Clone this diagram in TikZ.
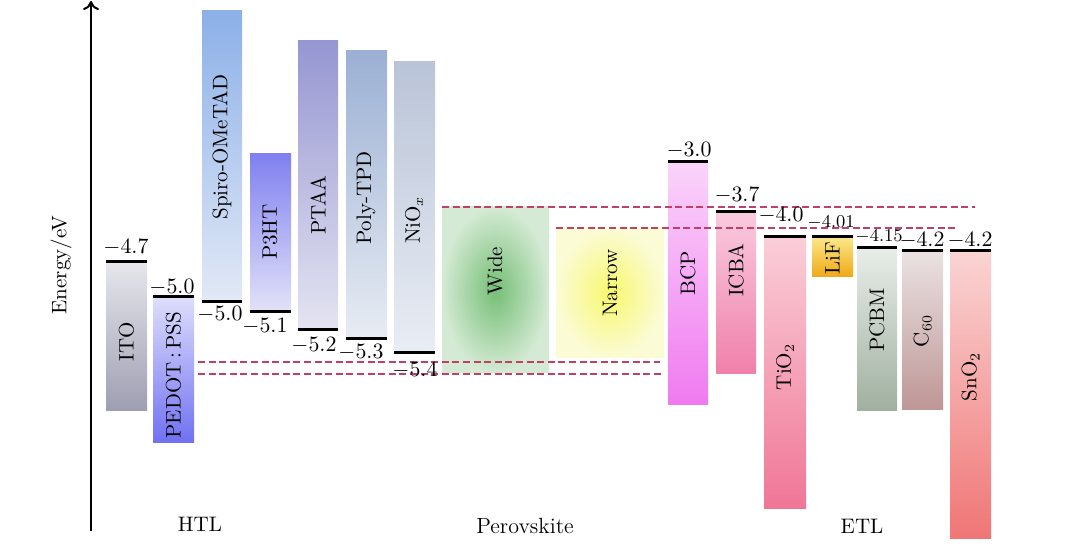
\documentclass[tikz,border=0pt]{standalone}
\usetikzlibrary{fit,arrows.meta}
\definecolor{itoT}{RGB}{230,230,236}\definecolor{itoB}{RGB}{158,158,178}
\definecolor{pedT}{RGB}{222,222,252}\definecolor{pedB}{RGB}{112,112,242}
\definecolor{spiT}{RGB}{140,176,232}\definecolor{spiB}{RGB}{226,233,246}
\definecolor{p3hT}{RGB}{128,128,240}\definecolor{p3hB}{RGB}{226,226,249}
\definecolor{ptaT}{RGB}{150,150,210}\definecolor{ptaB}{RGB}{228,228,242}
\definecolor{tpdT}{RGB}{155,176,212}\definecolor{tpdB}{RGB}{232,236,243}
\definecolor{nioT}{RGB}{186,196,216}\definecolor{nioB}{RGB}{233,237,244}
\definecolor{widI}{RGB}{118,190,118}\definecolor{widO}{RGB}{212,234,212}
\definecolor{narI}{RGB}{248,248,110}\definecolor{narO}{RGB}{251,251,214}
\definecolor{bcpT}{RGB}{250,212,250}\definecolor{bcpB}{RGB}{240,122,240}
\definecolor{icbT}{RGB}{249,202,222}\definecolor{icbB}{RGB}{240,128,170}
\definecolor{tioT}{RGB}{250,206,216}\definecolor{tioB}{RGB}{240,118,150}
\definecolor{lifT}{RGB}{250,232,140}\definecolor{lifB}{RGB}{240,168,20}
\definecolor{pcbT}{RGB}{232,237,232}\definecolor{pcbB}{RGB}{160,176,160}
\definecolor{c60T}{RGB}{234,226,226}\definecolor{c60B}{RGB}{190,150,150}
\definecolor{snoT}{RGB}{250,212,212}\definecolor{snoB}{RGB}{240,118,118}
\definecolor{dashc}{RGB}{192,64,104}
\begin{document}
\begin{tikzpicture}[x=0.5pt,y=-0.5pt,
  every node/.style={font=\fontsize{10.5}{12.6}\selectfont},
  bx/.style={fit={#1},inner sep=0pt,outer sep=0pt,draw=none},
  lvl/.style={line width=1.5pt},
  guide/.style={draw=dashc,line width=0.55pt,dash pattern=on 3.5pt off 1.8pt},
  vert/.style={rotate=90,inner sep=0pt},
  val/.style={inner sep=0pt},
  valsm/.style={inner sep=0pt,font=\fontsize{9}{11}\selectfont}]
\useasboundingbox (0,0) rectangle (1080,549);
% axis
\coordinate (ax0) at (91,531);
\coordinate (ax1) at (91,1);
\draw[line width=1pt,-{To[length=4.5pt,width=8pt]}] (ax0) -- (ax1);
\node[vert] (elab) at (61,265) {Energy/eV};
% HTL boxes
\node[bx={(106,262) (147,411)},top color=itoT,bottom color=itoB] (ito) {};
\node[bx={(153,297) (194,443)},top color=pedT,bottom color=pedB] (ped) {};
\node[bx={(202,11) (242,302)},top color=spiT,bottom color=spiB] (spi) {};
\node[bx={(250,154) (291,312)},top color=p3hT,bottom color=p3hB] (p3h) {};
\node[bx={(298,41) (338,330)},top color=ptaT,bottom color=ptaB] (pta) {};
\node[bx={(346,51) (387,339)},top color=tpdT,bottom color=tpdB] (tpd) {};
\node[bx={(394,62) (435,353)},top color=nioT,bottom color=nioB] (nio) {};
% perovskite
\node[bx={(442,207) (549,373)},inner color=widI,outer color=widO] (wide) {};
\node[bx={(556,228) (664,358)},inner color=narI,outer color=narO] (narrow) {};
% ETL boxes
\node[bx={(668,162) (708,405)},top color=bcpT,bottom color=bcpB] (bcp) {};
\node[bx={(716,212) (756,374)},top color=icbT,bottom color=icbB] (icb) {};
\node[bx={(764,237) (806,508)},top color=tioT,bottom color=tioB] (tio) {};
\node[bx={(812,237) (853,277)},top color=lifT,bottom color=lifB] (lif) {};
\node[bx={(857,248) (897,411)},top color=pcbT,bottom color=pcbB] (pcb) {};
\node[bx={(902,251) (943,410)},top color=c60T,bottom color=c60B] (c60) {};
\node[bx={(950,251) (991,538)},top color=snoT,bottom color=snoB] (sno) {};
% level bars
\draw[lvl] (ito.north west) -- (ito.north east);
\draw[lvl] (ped.north west) -- (ped.north east);
\draw[lvl] (spi.south west) -- (spi.south east);
\draw[lvl] (p3h.south west) -- (p3h.south east);
\draw[lvl] (pta.south west) -- (pta.south east);
\draw[lvl] (tpd.south west) -- (tpd.south east);
\draw[lvl] (nio.south west) -- (nio.south east);
\draw[lvl] (bcp.north west) -- (bcp.north east);
\draw[lvl] (icb.north west) -- (icb.north east);
\draw[lvl] (tio.north west) -- (tio.north east);
\draw[lvl] (lif.north west) -- (lif.north east);
\draw[lvl] (pcb.north west) -- (pcb.north east);
\draw[lvl] (c60.north west) -- (c60.north east);
\draw[lvl] (sno.north west) -- (sno.north east);
% dashed guides
\coordinate (wtE) at (975,207);
\coordinate (ntE) at (957,228);
\coordinate (nbS) at (198,362);
\coordinate (nbE) at (660,362);
\coordinate (wbS) at (198,374);
\coordinate (wbE) at (663,374);
\draw[guide] (wide.north west) -- (wtE);
\draw[guide] (narrow.north west) -- (ntE);
\draw[guide] (nbS) -- (nbE);
\draw[guide] (wbS) -- (wbE);
% box labels
\node[vert] (tito) at (126.5,342) {ITO};
\node[vert] (tped) at (173.5,375) {PEDOT\,:\,PSS};
\node[vert] (tspi) at (222,147) {Spiro-OMeTAD};
\node[vert] (tp3h) at (270,232) {P3HT};
\node[vert] (tpta) at (318,205) {PTAA};
\node[vert] (ttpd) at (366,198) {Poly-TPD};
\node[vert] (tnio) at (414,220) {NiO$_x$};
\node[vert] (twid) at (495,271) {Wide};
\node[vert] (tnar) at (610,283) {Narrow};
\node[vert] (tbcp) at (688,273) {BCP};
\node[vert] (ticb) at (736,270) {ICBA};
\node[vert] (ttio) at (785,367) {TiO$_2$};
\node[vert] (tlif) at (832.5,258) {LiF};
\node[vert] (tpcb) at (877,320) {PCBM};
\node[vert] (tc60) at (922.5,331) {C$_{60}$};
\node[vert] (tsno) at (970.5,377) {SnO$_2$};
% values
\node[val] (v1) at (126,247) {$-4.7$};
\node[val] (v2) at (172,287) {$-5.0$};
\node[val] (v3) at (220,314) {$-5.0$};
\node[val] (v4) at (265,326) {$-5.1$};
\node[val] (v5) at (314,345) {$-5.2$};
\node[val] (v6) at (361,352) {$-5.3$};
\node[val] (v7) at (415,370) {$-5.4$};
\node[val] (v8) at (689,150) {$-3.0$};
\node[val] (v9) at (737,195) {$-3.7$};
\node[val] (v10) at (781,215) {$-4.0$};
\node[valsm] (v11) at (831,223) {$-4.01$};
\node[valsm] (v12) at (879,237) {$-4.15$};
\node[val] (v13) at (922,240) {$-4.2$};
\node[val] (v14) at (970,240) {$-4.2$};
% group labels
\node (ghtl) at (200,524) {HTL};
\node[font=\fontsize{11}{13}\selectfont] (gper) at (525,526) {Perovskite};
\node (getl) at (862,526) {ETL};
\end{tikzpicture}
\end{document}
